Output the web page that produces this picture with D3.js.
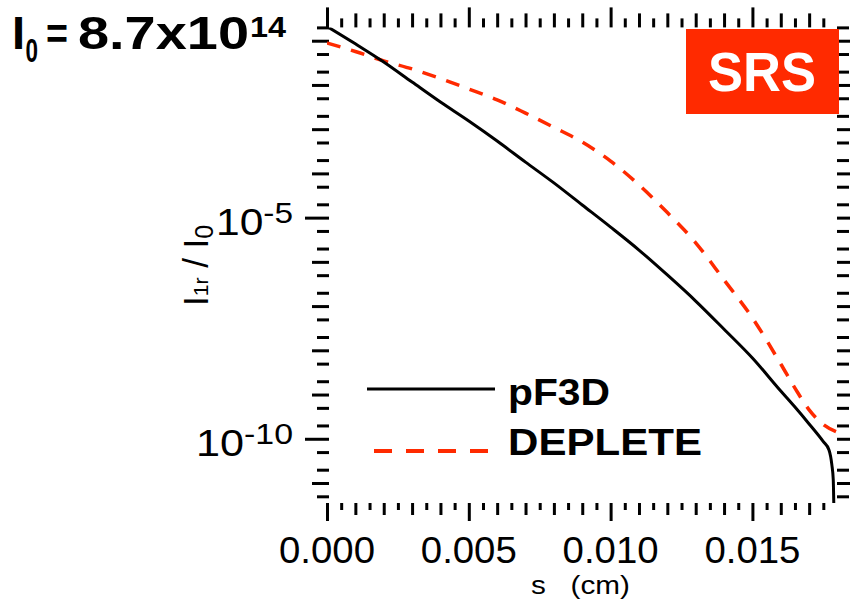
<!DOCTYPE html>
<html>
<head>
<meta charset="utf-8">
<script src="https://cdn.jsdelivr.net/npm/d3@7"></script>
<style>
  html, body { margin: 0; padding: 0; background: #fff; }
  svg { display: block; font-family: "Liberation Sans", Arial, Helvetica, sans-serif; }
</style>
</head>
<body>
<svg id="chart" width="850" height="600"></svg>
<script>
// Reflected SRS intensity I_1r / I_0 versus path length s (cm)
const seriesNames = ["pF3D", "DEPLETE"];

const sPF3D = [0, 0.001, 0.002, 0.003, 0.004, 0.005, 0.006, 0.007, 0.008, 0.009,
               0.010, 0.011, 0.012, 0.013, 0.014, 0.015, 0.016, 0.0165, 0.017,
               0.0175, 0.0177, 0.0178, 0.01785, 0.01787];
const iPF3D = [2.1e-1, 8.5e-2, 3.3e-2, 1.16e-2, 4.1e-3, 1.53e-3, 5.4e-4, 1.8e-4, 6.1e-5, 1.93e-5,
               6.1e-6, 1.85e-6, 5.05e-7, 1.3e-7, 3.0e-8, 6.7e-9, 1.2e-9, 5.2e-10, 2.16e-10,
               8.6e-11, 5.6e-11, 2.6e-11, 1.2e-11, 3.2e-12];

const sDEPLETE = [0, 0.001, 0.002, 0.003, 0.004, 0.005, 0.006, 0.007, 0.008, 0.009,
                  0.010, 0.011, 0.012, 0.013, 0.014, 0.015, 0.016, 0.0165, 0.017,
                  0.0175, 0.018];
const iDEPLETE = [8.9e-2, 5.7e-2, 3.5e-2, 2.3e-2, 1.4e-2, 8.1e-3, 4.6e-3, 2.3e-3, 1.1e-3, 5.1e-4,
                  1.9e-4, 5.5e-5, 1.3e-5, 2.7e-6, 3.9e-7, 5.4e-8, 4.9e-9, 1.4e-9, 4.5e-10,
                  2.1e-10, 1.4e-10];

const xTickLabels = [0, 0.005, 0.010, 0.015];
const yTickLabels = [1e-5, 1e-10];
const yTickExponents = ["-5", "-10"];

const xDomain = [0, 0.018];
const yDomain = [3.53e-12, 0.2];

const RED = "#ff2a00";

const svg = d3.select("#chart");

const plot = { left: 327, right: 837.5, top: 27.4, bottom: 503 };

const x = d3.scaleLinear().domain(xDomain).range([plot.left, plot.right]);
const y = d3.scaleLog().domain(yDomain).range([plot.bottom, plot.top]);

// ---- tick sets ----
const xAll = d3.range(0, 36).map(i => i * 0.0005);
const xLong = xAll.filter((d, i) => i % 10 === 0);
const xMed = xAll.filter((d, i) => i % 10 !== 0 && i % 2 === 0);
const xShort = xAll.filter((d, i) => i % 2 === 1);

const yLong = [], yMed = [], yShort = [];
for (let e = -12; e <= 0; e++) {
  [1, 2, 5].forEach(m => {
    const v = m * Math.pow(10, e);
    if (v < yDomain[0] * 0.999 || v > yDomain[1] * 1.001) return;
    if (m === 1 && e % 5 === 0) yLong.push(v);
    else if (m === 1) yMed.push(v);
    else yShort.push(v);
  });
}

function tickAxis(gen, scale, values, size, tx, ty) {
  const g = svg.append("g")
    .attr("transform", `translate(${tx},${ty})`)
    .call(gen(scale).tickValues(values).tickSize(size).tickFormat(""));
  g.select(".domain").remove();
  g.selectAll(".tick line").attr("stroke", "#000").attr("stroke-width", 3);
  return g;
}

// bottom and top ticks
[[xLong, 18], [xMed, 12], [xShort, 7]].forEach(([vals, len]) => {
  tickAxis(d3.axisBottom, x, vals, len, 0, plot.bottom);
});
[[xLong, 20], [xMed, 14], [xShort, 9]].forEach(([vals, len]) => {
  tickAxis(d3.axisTop, x, vals, len, 0, plot.top);
});
// left and right ticks
[[yLong, 24], [yMed, 17], [yShort, 12]].forEach(([vals, len]) => {
  tickAxis(d3.axisLeft, y, vals, len, 329, 0);
  tickAxis(d3.axisRight, y, vals, len, 837, 0);
});

// ---- x tick labels ----
svg.append("g").selectAll("text")
  .data(xTickLabels)
  .join("text")
  .attr("x", d => x(d))
  .attr("y", 562.7)
  .attr("text-anchor", "middle")
  .attr("font-size", 36)
  .attr("textLength", 96)
  .attr("lengthAdjust", "spacingAndGlyphs")
  .attr("fill", "#000")
  .text(d => d3.format(".3f")(d));

// ---- y tick labels ----
const yl = svg.append("g").selectAll("text")
  .data(yTickLabels)
  .join("text")
  .attr("x", 293)
  .attr("y", d => y(d) + 17)
  .attr("text-anchor", "end")
  .attr("fill", "#000")
  .attr("textLength", (d, i) => i === 0 ? 77 : 97)
  .attr("lengthAdjust", "spacingAndGlyphs");
yl.append("tspan").attr("font-size", 37).text("10");
yl.append("tspan").attr("font-size", 29).attr("dy", -11.7).text((d, i) => yTickExponents[i]);

// ---- axis titles ----
svg.append("text")
  .attr("x", 531)
  .attr("y", 594)
  .attr("font-size", 25)
  .attr("textLength", 99)
  .attr("lengthAdjust", "spacingAndGlyphs")
  .attr("fill", "#000")
  .attr("xml:space", "preserve")
  .text("s   (cm)");

const ylab = svg.append("text")
  .attr("transform", "translate(208,306) rotate(-90)")
  .attr("fill", "#000")
  .attr("font-size", 35);
ylab.append("tspan").text("I");
ylab.append("tspan").attr("font-size", 21).text("1r");
ylab.append("tspan").text(" / I");
ylab.append("tspan").attr("font-size", 25).attr("dy", 5).text("0");

// ---- curves ----
svg.append("defs").append("clipPath").attr("id", "plot-clip")
  .append("rect")
  .attr("x", plot.left).attr("y", plot.top)
  .attr("width", plot.right - plot.left).attr("height", plot.bottom - plot.top);

const line = d3.line()
  .x(d => x(d[0]))
  .y(d => y(d[1]))
  .curve(d3.curveMonotoneX);

const curves = svg.append("g").attr("clip-path", "url(#plot-clip)");

curves.append("path")
  .datum(d3.zip(sDEPLETE, iDEPLETE))
  .attr("fill", "none")
  .attr("stroke", RED)
  .attr("stroke-width", 3.5)
  .attr("stroke-dasharray", "14,11")
  .attr("d", line);

curves.append("path")
  .datum(d3.zip(sPF3D, iPF3D))
  .attr("fill", "none")
  .attr("stroke", "#000")
  .attr("stroke-width", 3)
  .attr("stroke-linejoin", "round")
  .attr("d", line);

// ---- legend ----
const legend = svg.append("g");
legend.append("line")
  .attr("x1", 367).attr("x2", 495).attr("y1", 389).attr("y2", 389)
  .attr("stroke", "#000").attr("stroke-width", 3);
legend.append("text")
  .attr("x", 508).attr("y", 405)
  .attr("font-size", 37).attr("font-weight", "bold")
  .attr("textLength", 102).attr("lengthAdjust", "spacingAndGlyphs")
  .attr("fill", "#000")
  .text(seriesNames[0]);
legend.append("line")
  .attr("x1", 374).attr("x2", 502).attr("y1", 451).attr("y2", 451)
  .attr("stroke", RED).attr("stroke-width", 4)
  .attr("stroke-dasharray", "18,14");
legend.append("text")
  .attr("x", 508).attr("y", 455)
  .attr("font-size", 36).attr("font-weight", "bold")
  .attr("textLength", 194).attr("lengthAdjust", "spacingAndGlyphs")
  .attr("fill", "#000")
  .text(seriesNames[1]);

// ---- SRS badge ----
svg.append("rect")
  .attr("x", 686).attr("y", 29).attr("width", 153).attr("height", 85)
  .attr("fill", RED);
svg.append("text")
  .attr("x", 762).attr("y", 90.7)
  .attr("text-anchor", "middle")
  .attr("font-size", 56).attr("font-weight", "bold")
  .attr("textLength", 108).attr("lengthAdjust", "spacingAndGlyphs")
  .attr("fill", "#fff")
  .text("SRS");

// ---- intensity annotation ----
const title = svg.append("g").attr("font-weight", "bold").attr("fill", "#000");
title.append("text").attr("x", 12).attr("y", 49.3).attr("font-size", 47).text("I");
title.append("text").attr("x", 25.5).attr("y", 61.7).attr("font-size", 34)
  .attr("textLength", 12.5).attr("lengthAdjust", "spacingAndGlyphs").text("0");
title.append("text").attr("x", 46).attr("y", 49.3).attr("font-size", 44)
  .attr("textLength", 22).attr("lengthAdjust", "spacingAndGlyphs").text("=");
title.append("text").attr("x", 78).attr("y", 49.3).attr("font-size", 46)
  .attr("textLength", 171).attr("lengthAdjust", "spacingAndGlyphs").text("8.7x10");
title.append("text").attr("x", 250).attr("y", 36.7).attr("font-size", 30)
  .attr("textLength", 36).attr("lengthAdjust", "spacingAndGlyphs").text("14");
</script>
</body>
</html>
